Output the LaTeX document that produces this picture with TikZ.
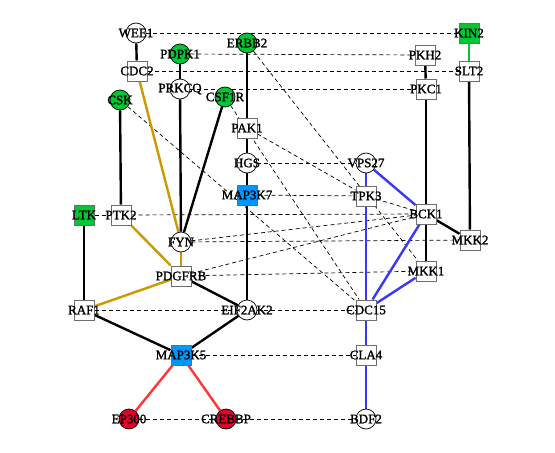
\documentclass[tikz,border=0pt]{standalone}
\usepackage{fontspec}
\setmainfont{Liberation Serif}[FakeBold=1.5]
\usetikzlibrary{backgrounds}
\definecolor{ngreen}{RGB}{0,200,50}
\definecolor{nblue}{RGB}{0,150,255}
\definecolor{nred}{RGB}{228,0,40}
\definecolor{egold}{RGB}{204,153,0}
\definecolor{eblue}{RGB}{55,55,255}
\definecolor{ered}{RGB}{255,55,55}
\definecolor{sqborder}{RGB}{110,110,110}
\tikzset{
  cnode/.style={circle, draw=black, line width=0.7pt, fill=white, minimum size=20pt, inner sep=0pt},
  snode/.style={rectangle, draw=sqborder, line width=1pt, fill=white, minimum size=20pt, inner sep=0pt},
  gcirc/.style={cnode, fill=ngreen},
  rcirc/.style={cnode, fill=nred},
  gsq/.style={snode, fill=ngreen},
  bsq/.style={snode, fill=nblue},
  solidedge/.style={line width=2.4pt, black},
  goldedge/.style={line width=2.4pt, egold},
  blueedge/.style={line width=2.4pt, eblue},
  rededge/.style={line width=2.4pt, ered},
  greenedge/.style={line width=2.4pt, ngreen},
  dashedge/.style={line width=0.7pt, black, dash pattern=on 4pt off 3pt},
  lbl/.style={font=\fontsize{13}{13}\selectfont, inner sep=0pt, text=black}
}
\begin{document}
\begin{tikzpicture}[x=1pt, y=-1pt]
\useasboundingbox (0,0) rectangle (555,453);
% nodes
\node[cnode] (WEE1) at (136,33) {};
\node[snode] (CDC2) at (137,71) {};
\node[gcirc] (PDPK1) at (180,54) {};
\node[cnode] (PRKCQ) at (180,89) {};
\node[gcirc] (ERBB2) at (247,43) {};
\node[gcirc] (CSF1R) at (225,97) {};
\node[gcirc] (CSK) at (120,100) {};
\node[snode] (PAK1) at (247,128) {};
\node[cnode] (HGS) at (247,163) {};
\node[bsq] (MAP3K7) at (247,195) {};
\node[gsq] (LTK) at (84,215) {};
\node[snode] (PTK2) at (121,215) {};
\node[cnode] (FYN) at (181,242) {};
\node[snode] (PDGFRB) at (181,276) {};
\node[snode] (RAF1) at (84,310) {};
\node[cnode] (EIF2AK2) at (247,310) {};
\node[bsq] (MAP3K5) at (181,355) {};
\node[rcirc] (EP300) at (129,419) {};
\node[rcirc] (CREBBP) at (226,419) {};
\node[gsq] (KIN2) at (469,33) {};
\node[snode] (PKH2) at (425,55) {};
\node[snode] (SLT2) at (469,71) {};
\node[snode] (PKC1) at (426,89) {};
\node[cnode] (VPS27) at (366,163) {};
\node[snode] (TPK3) at (366,196) {};
\node[snode] (BCK1) at (426,214) {};
\node[snode] (MKK2) at (470,240) {};
\node[snode] (MKK1) at (426,271) {};
\node[snode] (CDC15) at (366,310) {};
\node[snode] (CLA4) at (366,355) {};
\node[cnode] (BDF2) at (366,419) {};
% labels
\foreach \n in {WEE1,CDC2,PDPK1,PRKCQ,ERBB2,CSF1R,CSK,PAK1,HGS,MAP3K7,LTK,PTK2,FYN,PDGFRB,RAF1,EIF2AK2,MAP3K5,EP300,CREBBP,KIN2,PKH2,SLT2,PKC1,VPS27,TPK3,BCK1,MKK2,MKK1,CDC15,CLA4,BDF2}
  \node[lbl] (L\n) at (\n) {\n};
\begin{pgfonlayer}{background}
\fill[white] (0,0) rectangle (555,453);
% dashed edges
\draw[dashedge] (WEE1) -- (KIN2);
\draw[dashedge] (PDPK1) -- (PKH2);
\draw[dashedge] (CDC2) -- (SLT2);
\draw[dashedge] (PRKCQ) -- (PKC1);
\draw[dashedge] (ERBB2) -- (MKK1);
\draw[dashedge] (CSF1R) -- (CDC15);
\draw[dashedge] (CSK) -- (CDC15);
\draw[dashedge] (PAK1) -- (TPK3);
\draw[dashedge] (HGS) -- (VPS27);
\draw[dashedge] (MAP3K7) -- (TPK3);
\draw[dashedge] (TPK3) -- (BCK1);
\draw[dashedge] (LTK) -- (PTK2);
\draw[dashedge] (PTK2) -- (BCK1);
\draw[dashedge] (FYN) -- (BCK1);
\draw[dashedge] (FYN) -- (MKK2);
\draw[dashedge] (PDGFRB) -- (BCK1);
\draw[dashedge] (PDGFRB) -- (MKK1);
\draw[dashedge] (RAF1) -- (EIF2AK2);
\draw[dashedge] (EIF2AK2) -- (CDC15);
\draw[dashedge] (MAP3K5) -- (CLA4);
\draw[dashedge] (EP300) -- (CREBBP);
\draw[dashedge] (CREBBP) -- (BDF2);
% solid edges
\draw[solidedge] (WEE1) -- (CDC2);
\draw[goldedge] (CDC2) -- (FYN);
\draw[solidedge] (PDPK1) -- (PRKCQ);
\draw[solidedge] (PRKCQ) -- (FYN);
\draw[solidedge] (CSF1R) -- (FYN);
\draw[solidedge] (CSK) -- (PTK2);
\draw[solidedge] (ERBB2) -- (PAK1);
\draw[solidedge] (PAK1) -- (HGS);
\draw[solidedge] (HGS) -- (MAP3K7);
\draw[solidedge] (MAP3K7) -- (EIF2AK2);
\draw[goldedge] (PTK2) -- (PDGFRB);
\draw[goldedge] (FYN) -- (PDGFRB);
\draw[goldedge] (PDGFRB) -- (RAF1);
\draw[solidedge] (LTK) -- (RAF1);
\draw[solidedge] (PDGFRB) -- (EIF2AK2);
\draw[solidedge] (RAF1) -- (MAP3K5);
\draw[solidedge] (EIF2AK2) -- (MAP3K5);
\draw[rededge] (MAP3K5) -- (EP300);
\draw[rededge] (MAP3K5) -- (CREBBP);
\draw[greenedge] (KIN2) -- (SLT2);
\draw[solidedge] (PKH2) -- (PKC1);
\draw[solidedge] (PKC1) -- (BCK1);
\draw[solidedge] (SLT2) -- (MKK2);
\draw[solidedge] (BCK1) -- (MKK2);
\draw[solidedge] (BCK1) -- (MKK1);
\draw[blueedge] (VPS27) -- (BCK1);
\draw[blueedge] (VPS27) -- (TPK3);
\draw[blueedge] (TPK3) -- (CDC15);
\draw[blueedge] (BCK1) -- (CDC15);
\draw[blueedge] (MKK1) -- (CDC15);
\draw[blueedge] (CDC15) -- (CLA4);
\draw[blueedge] (CLA4) -- (BDF2);
\end{pgfonlayer}
\end{tikzpicture}
\end{document}
